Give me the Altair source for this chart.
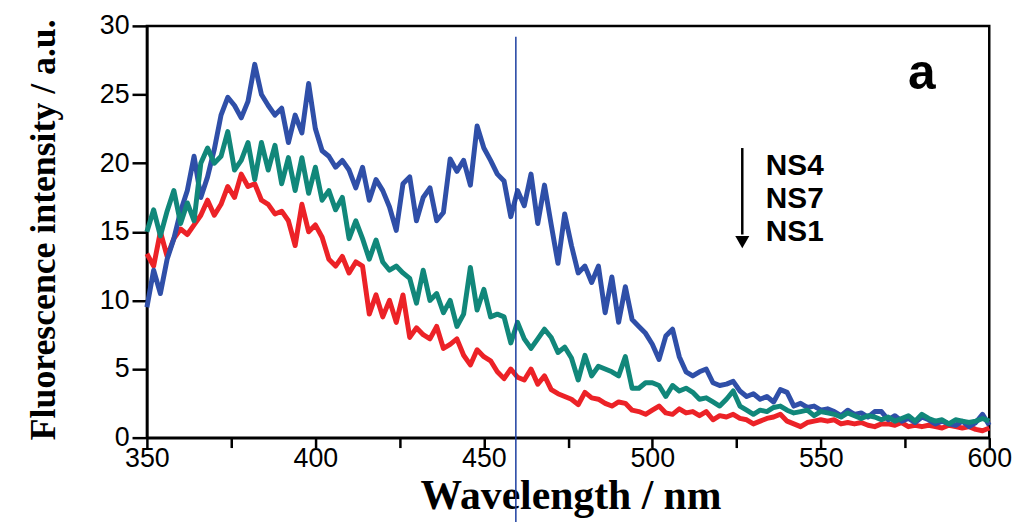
import altair as alt
import pandas as pd

# wavelength grid (nm), 2 nm sampling
wavelength = list(range(350, 601, 2))

ns4 = [9.5, 12.2, 10.5, 13.0, 14.5, 16.5, 18.0, 20.5, 17.5, 19.0,
       21.0, 23.5, 24.8, 24.2, 23.3, 24.5, 27.2, 25.0, 24.2, 23.5,
       24.0, 21.5, 23.5, 22.2, 25.8, 22.5, 20.9, 20.5, 19.7, 20.2,
       19.5, 18.2, 19.7, 17.3, 18.8, 18.0, 16.8, 15.1, 18.5, 19.0,
       15.8, 17.5, 18.2, 15.8, 16.4, 20.3, 19.4, 20.2, 18.4, 22.7,
       21.1, 20.2, 19.2, 18.7, 16.1, 18.0, 16.9, 19.2, 15.6, 18.4,
       15.5, 12.7, 16.3, 14.0, 12.0, 12.5, 11.3, 12.5, 9.1, 11.7,
       8.4, 11.0, 8.6, 8.1, 7.6, 6.8, 5.7, 7.4, 7.9, 5.9,
       4.8, 4.5, 4.8, 5.0, 4.0, 3.8, 3.9, 4.1, 3.4, 3.0,
       3.2, 2.8, 3.0, 2.6, 3.5, 3.3, 2.3, 2.5, 2.2, 2.3,
       2.0, 2.1, 1.9, 1.6, 2.0, 1.7, 1.8, 1.5, 1.9, 1.9,
       1.3, 1.6, 1.2, 1.4, 1.1, 1.5, 1.3, 1.0, 1.2, 1.0,
       0.9, 1.2, 0.8, 1.1, 1.7, 0.9]

ns7 = [15.0, 16.6, 14.7, 16.5, 18.0, 15.6, 17.1, 15.8, 20.0, 21.1,
       20.0, 20.5, 22.3, 19.5, 20.2, 21.5, 18.8, 21.5, 19.5, 21.3,
       18.5, 20.4, 18.0, 20.4, 17.8, 19.7, 17.3, 18.0, 16.6, 17.5,
       14.5, 15.8, 14.5, 13.0, 14.4, 12.8, 12.2, 12.5, 12.0, 11.6,
       9.8, 12.2, 10.0, 10.5, 9.1, 10.0, 8.1, 9.0, 12.4, 9.3,
       10.8, 8.8, 9.0, 8.8, 6.9, 8.4, 7.2, 6.5, 7.2, 7.9,
       7.3, 6.2, 6.6, 5.8, 4.2, 6.0, 4.5, 5.2, 5.0, 4.8,
       4.5, 5.9, 3.6, 3.6, 4.0, 4.0, 3.8, 3.0, 3.8, 3.4,
       3.6, 3.3, 2.8, 2.9, 2.6, 2.3, 2.8, 3.4, 2.3, 2.0,
       1.7, 2.0, 1.9, 2.2, 2.3, 2.0, 1.8, 1.9, 2.0, 1.6,
       1.9, 1.8, 1.7, 1.5, 1.8, 1.6, 1.4, 1.6, 1.5, 1.3,
       1.5, 1.2, 1.4, 1.6, 1.2, 1.7, 1.4, 1.2, 1.3, 1.0,
       1.3, 1.2, 1.1, 1.2, 1.4, 1.2]

ns1 = [13.4, 12.5, 15.0, 13.2, 14.5, 15.2, 14.8, 15.5, 16.2, 17.3,
       16.2, 17.0, 18.3, 17.5, 19.2, 18.3, 18.5, 17.3, 17.0, 16.3,
       16.5, 15.8, 14.0, 17.0, 15.0, 15.5, 14.6, 13.0, 12.5, 13.2,
       12.0, 12.8, 12.5, 9.0, 10.4, 8.8, 10.0, 8.4, 10.4, 7.3,
       8.0, 7.5, 7.2, 8.1, 6.5, 6.8, 7.2, 6.0, 5.3, 6.4,
       5.9, 5.6, 4.8, 4.3, 5.0, 4.4, 4.2, 5.0, 3.9, 4.5,
       3.5, 3.2, 3.0, 2.8, 2.4, 3.3, 2.9, 2.8, 2.5, 2.3,
       2.6, 2.5, 2.0, 1.9, 1.7, 2.0, 2.3, 1.8, 1.7, 2.1,
       1.8, 1.9, 1.6, 1.9, 1.3, 1.6, 1.5, 1.7, 1.4, 1.3,
       1.0, 1.2, 1.4, 1.5, 1.7, 1.2, 1.0, 0.8, 1.1, 1.2,
       1.3, 1.2, 1.3, 1.0, 1.1, 1.0, 1.1, 0.9, 0.8, 1.0,
       1.0, 0.9, 1.1, 0.8, 0.9, 0.8, 0.9, 0.8, 0.7, 0.9,
       0.8, 0.7, 0.8, 0.6, 0.5, 0.7]

series_names = ["NS1", "NS4", "NS7"]          # drawing order
series_colors = ["#ec2227", "#2f4fa8", "#11877a"]

x_ticks = [350, 375, 400, 425, 450, 475, 500, 525, 550, 575, 600]
y_ticks = [0, 2.5, 5, 7.5, 10, 12.5, 15, 17.5, 20, 22.5, 25, 27.5, 30]

frames = []
for name, vals in zip(["NS1", "NS4", "NS7"], [ns1, ns4, ns7]):
    frames.append(pd.DataFrame({"wl": wavelength, "val": vals, "s": name}))
df = pd.concat(frames, ignore_index=True)
df["order"] = df["s"].map({n: i for i, n in enumerate(series_names)})

xscale = alt.Scale(domain=[350, 600], nice=False, zero=False)
yscale = alt.Scale(domain=[0, 30], nice=False)

xaxis = alt.Axis(
    values=x_ticks,
    labelExpr="datum.value % 50 === 0 ? datum.label : ''",
    title="Wavelength / nm",
    titleFont="Liberation Serif", titleFontWeight="bold", titleFontSize=42,
    titleColor="black",
    titleX=427, titleY=71, titleBaseline="alphabetic", titleAlign="center",
    labelFont="Liberation Sans", labelFontSize=27, labelColor="black",
    labelPadding=-2, labelFlush=False,
    ticks=True, tickSize=10, tickColor="black", tickWidth=2.5,
    domainColor="black", domainWidth=2.5,
    grid=False,
)
yaxis = alt.Axis(
    values=y_ticks,
    labelExpr="datum.value % 5 === 0 ? datum.label : ''",
    title="Fluorescence intensity / a.u.",
    titleFont="Liberation Serif", titleFontWeight="bold", titleFontSize=36,
    titleColor="black",
    titleX=-85, titleY=205, titleAngle=-90, titleAlign="center", titleBaseline="bottom",
    labelFont="Liberation Sans", labelFontSize=27, labelColor="black",
    labelPadding=3, ticks=True, tickSize=15, tickColor="black", tickWidth=2.5,
    domainColor="black", domainWidth=2.5, grid=False,
)

lines = alt.Chart(df).mark_line(strokeWidth=5, strokeJoin="round").encode(
    x=alt.X("wl:Q", scale=xscale, axis=xaxis),
    y=alt.Y("val:Q", scale=yscale, axis=yaxis),
    color=alt.Color("s:N", scale=alt.Scale(domain=series_names, range=series_colors), legend=None),
    order=alt.Order("order:Q"),
    detail="s:N",
)

# annotations (data coordinates)
ann_text = pd.DataFrame({"x": [533.7, 533.7, 533.7], "y": [19.15, 16.75, 14.3],
                         "t": ["NS4", "NS7", "NS1"]})
labels = alt.Chart(ann_text).mark_text(
    align="left", baseline="alphabetic", font="Liberation Sans", fontWeight="bold",
    fontSize=30, color="black"
).encode(x=alt.X("x:Q", scale=xscale), y=alt.Y("y:Q", scale=yscale), text="t:N")

panel = pd.DataFrame({"x": [580.0], "y": [25.4], "t": ["a"]})
panel_label = alt.Chart(panel).mark_text(
    align="center", baseline="alphabetic", font="Liberation Sans", fontWeight="bold",
    fontSize=50, color="black"
).encode(x=alt.X("x:Q", scale=xscale), y=alt.Y("y:Q", scale=yscale), text="t:N")

arrow_df = pd.DataFrame({"x": [526.7], "y": [21.1], "y2": [14.8], "yh": [14.25]})
arrow_shaft = alt.Chart(arrow_df).mark_rule(color="black", strokeWidth=2.5).encode(
    x=alt.X("x:Q", scale=xscale), y=alt.Y("y:Q", scale=yscale), y2="y2:Q")
arrow_head = alt.Chart(arrow_df).mark_point(
    shape="triangle-down", filled=True, color="black", size=200, opacity=1
).encode(x=alt.X("x:Q", scale=xscale), y=alt.Y("yh:Q", scale=yscale))

# thin blue vertical line present in the source image
vline_df = pd.DataFrame({"x": [459.5]})
vline = alt.Chart(vline_df).mark_rule(color="#1c3ea0", strokeWidth=1.5).encode(
    x=alt.X("x:Q", scale=xscale), y=alt.value(11), y2=alt.value(500))

chart = alt.layer(lines, labels, panel_label, arrow_shaft, arrow_head, vline).properties(
    width=849, height=415,
    autosize=alt.AutoSizeParams(type="none"),
    padding={"left": 140, "top": 16, "right": 33, "bottom": 84},
    background="white",
).configure_view(
    stroke="black", strokeWidth=2.5
).configure_axis(
    ticks=True, tickColor="black", tickWidth=2.5, tickOpacity=1
)

chart.save("out.html", embed_options={"renderer": "svg", "actions": False})
